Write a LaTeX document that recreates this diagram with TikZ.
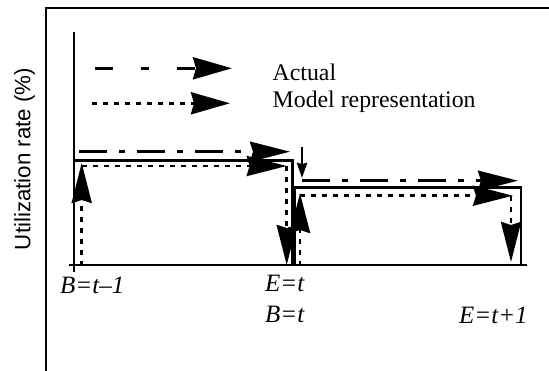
\documentclass[tikz,border=0pt]{standalone}
\usepackage{fontspec}
\setmainfont{Liberation Serif}
\newfontfamily\labelsans{Liberation Sans}
\usetikzlibrary{arrows.meta}
\begin{document}
\begin{tikzpicture}[x=1pt,y=-1pt,
  ln/.style={line width=2.9pt},
  big/.style={-{Stealth[length=40pt,width=20pt,inset=3pt]}},
  legarrow/.style={-{Stealth[length=39pt,width=22pt,inset=3pt]}},
  small/.style={-{Stealth[length=15pt,width=10pt,inset=1pt]}},
  act/.style={ln,dash pattern=on 28pt off 12pt on 6pt off 12pt},
  mdl/.style={ln,dash pattern=on 5pt off 6pt},
  txt/.style={inner sep=0pt,anchor=base west,font=\fontsize{23.8}{26}\selectfont},
  lab/.style={inner sep=0pt,anchor=base west,font=\fontsize{25}{27}\selectfont\itshape}]
\useasboundingbox (0,0) rectangle (549,371);
% frame
\draw[line width=2pt] (46,372) -- (46,8) -- (550,8);
% axes
\draw[ln] (74,32) -- (74,272);
\draw[ln] (69,265) -- (527,265);
% legend
\draw[ln,legarrow,dash pattern=on 18pt off 28pt on 8pt off 28pt] (95,68.3) -- (232,68.3);
\draw[mdl,legarrow] (91.7,103.3) -- (230,103.3);
\node[txt] (actual) at (272.5,81) {Actual};
\node[txt] (model) at (272.5,107.5) {Model representation};
% actual (solid steps)
\draw[ln] (74,160.7) -- (292.5,160.7) -- (292.5,266);
\draw[ln] (294.5,266) -- (294.5,187.7) -- (521,187.7) -- (521,265);
% actual (dash-dot arrows)
\draw[act,big] (79,151.7) -- (290,151.7);
\draw[ln,small] (302,147) -- (302,178);
\draw[act,big] (302,180.7) -- (518,180.7);
% model representation
\draw[mdl,big] (81.7,266) -- (81.7,163);
\draw[mdl,big] (82,166) -- (286.7,166);
\draw[mdl,big] (286.7,166) -- (286.7,265);
\draw[mdl,big] (300,266) -- (300,193);
\draw[mdl,big] (300,195.7) -- (513,195.7);
\draw[mdl,big] (511,196) -- (511,262);
% labels
\node[lab] (b0) at (60,294) {B=t–1};
\node[lab] (e1) at (265,292) {E=t};
\node[lab] (b1) at (265,323) {B=t};
\node[lab] (e2) at (459,324) {E=t+1};
\node[rotate=90,font=\labelsans\fontsize{22.3}{24}\selectfont,inner sep=0pt] (ylab) at (24.5,159) {Utilization rate (\%)};
\end{tikzpicture}
\end{document}
